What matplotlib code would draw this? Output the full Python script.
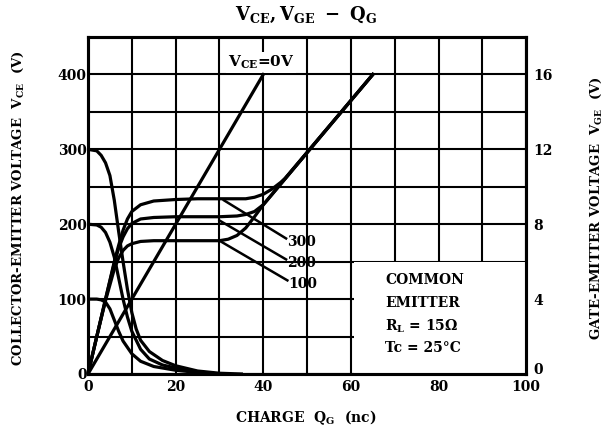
import matplotlib
matplotlib.use("Agg")
import matplotlib.pyplot as plt
import matplotlib.transforms as mtransforms
from matplotlib.patches import Rectangle
from matplotlib.ticker import MultipleLocator

plt.rcParams['font.family'] = ['DejaVu Serif']
plt.rcParams['font.weight'] = 'bold'
plt.rcParams['mathtext.fontset'] = 'dejavuserif'

# ---- data ----
# Collector-emitter voltage (left axis, V) vs gate charge (nC)
q_vce300 = [0, 2, 3, 4, 5, 6, 7, 8, 9, 10, 11, 12, 14, 17, 20, 25, 30, 35]
vce300 = [300, 298, 292, 282, 265, 232, 190, 150, 113, 82, 60, 45, 30, 18, 11, 4, 1, 0]
q_vce200 = [0, 2, 3, 4, 5, 6, 7, 8, 9, 10, 12, 14, 17, 20, 25, 30]
vce200 = [200, 199, 196, 189, 176, 156, 128, 100, 76, 57, 33, 20, 12, 8, 3, 0]
q_vce100 = [0, 2, 3, 4, 5, 6, 7, 8, 10, 12, 15, 20, 25, 30]
vce100 = [100, 100, 99, 96, 87, 72, 57, 44, 27, 17, 10, 5, 2, 0]

# Gate-emitter voltage (right axis, V) vs gate charge (nC)
q_vge0 = [0, 40]
vge0 = [0, 16]
q_vge300 = [0, 2, 4, 6, 7, 8, 9, 10, 12, 15, 20, 25, 30, 36, 38, 40, 42, 44, 45, 65]
vge300 = [0, 2.0, 4.0, 6.0, 6.88, 7.68, 8.28, 8.68, 9.04, 9.24, 9.32, 9.36, 9.36,
          9.36, 9.44, 9.6, 9.88, 10.24, 10.46, 16]
q_vge200 = [0, 2, 4, 6, 7, 8, 9, 10, 12, 15, 20, 25, 30, 34, 36, 38, 40, 65]
vge200 = [0, 2.0, 4.0, 5.92, 6.72, 7.32, 7.76, 8.04, 8.28, 8.36, 8.4, 8.4, 8.4,
          8.44, 8.52, 8.68, 9.04, 16]
q_vge100 = [0, 2, 4, 6, 7, 8, 9, 10, 12, 15, 20, 25, 30, 32, 34, 36, 38, 39, 40, 65]
vge100 = [0, 2.0, 3.92, 5.6, 6.2, 6.6, 6.84, 6.96, 7.08, 7.12, 7.12, 7.12, 7.12,
          7.2, 7.4, 7.8, 8.4, 8.72, 9.04, 16]

x_ticks = [0, 20, 40, 60, 80, 100]
left_ticks = [0, 100, 200, 300, 400]
right_ticks = [0, 4, 8, 12, 16]

# ---- figure ----
fig = plt.figure(figsize=(6.12, 4.33), dpi=100)
ax = fig.add_axes([0.1438, 0.1363, 0.716, 0.7782])
ax.set_xlim(0, 100)
ax.set_ylim(0, 450)
ax2 = ax.twinx()
ax2.set_ylim(0, 18)

ax.xaxis.set_minor_locator(MultipleLocator(10))
ax.yaxis.set_minor_locator(MultipleLocator(50))
ax.set_xticks(x_ticks)
ax.set_yticks(left_ticks)
ax2.set_yticks(right_ticks)
ax.set_axisbelow(True)
ax.grid(which='both', color='black', linewidth=1.5)
for a in (ax, ax2):
    for s in a.spines.values():
        s.set_linewidth(2.2)
    a.tick_params(which='both', length=0, labelsize=10)
ax.tick_params(axis='y', pad=1)
ax.tick_params(axis='x', pad=4)
ax2.tick_params(axis='y', pad=5)
for lab in ax.get_xticklabels() + ax.get_yticklabels() + ax2.get_yticklabels():
    lab.set_fontweight('bold')
# lift the right-hand "0" a little (it sits just above the x label "100")
r0 = ax2.get_yticklabels()[0]
r0.set_transform(r0.get_transform() + mtransforms.ScaledTranslation(0, 4 / 72, fig.dpi_scale_trans))

# white legend box (grid lines on its edges stay visible)
ax.add_patch(Rectangle((60.6, 0.8), 39.4, 148.2, facecolor='white', edgecolor='none', zorder=1))

lw = 2.3
ax.plot(q_vce300, vce300, color='black', lw=lw, zorder=3)
ax.plot(q_vce200, vce200, color='black', lw=lw, zorder=3)
ax.plot(q_vce100, vce100, color='black', lw=lw, zorder=3)
ax2.plot(q_vge0, vge0, color='black', lw=lw)
ax2.plot(q_vge300, vge300, color='black', lw=lw)
ax2.plot(q_vge200, vge200, color='black', lw=lw)
ax2.plot(q_vge100, vge100, color='black', lw=lw)

# leader lines and labels
for (x0, y0), (x1, y1), txt in [((31, 232), (45.2, 181), '300'),
                               ((30, 205), (45.2, 153), '200'),
                               ((30, 178), (45.5, 125), '100')]:
    ax.plot([x0, x1], [y0, y1], color='black', lw=1.8, zorder=3)
    ax.text(x1 + 0.3, y1 - 5, txt, fontsize=10, fontweight='bold', va='center', ha='left', zorder=4)

ax.text(39.5, 416, r'$\mathbf{V_{CE}}$=0V', fontsize=11, fontweight='bold', ha='center',
        va='center', zorder=4,
        bbox=dict(facecolor='white', edgecolor='none', pad=1.5))

for y, t in [(125, 'COMMON'), (95, 'EMITTER'), (64, r'R$_\mathbf{L}$ = 15Ω'), (35, 'Tc = 25°C')]:
    ax.text(67.8, y, t, fontsize=10, fontweight='bold', ha='left', va='center', zorder=4)

fig.text(0.5, 0.965, r'$\mathbf{V_{CE}, V_{GE}\ -\ Q_G}$', ha='center', va='center', fontsize=13)
fig.text(0.5, 0.035, r'CHARGE  $\mathbf{Q_G}$  (nc)', ha='center', va='center', fontsize=10,
         fontweight='bold')
fig.text(0.03, 0.52, r'COLLECTOR-EMITTER VOLTAGE  $\mathbf{V_{CE}}$  (V)', rotation=90,
         ha='center', va='center', fontsize=9.5, fontweight='bold')
fig.text(0.975, 0.52, r'GATE-EMITTER VOLTAGE  $\mathbf{V_{GE}}$  (V)', rotation=90,
         ha='center', va='center', fontsize=9.5, fontweight='bold')

fig.savefig('out.png', dpi=100)
